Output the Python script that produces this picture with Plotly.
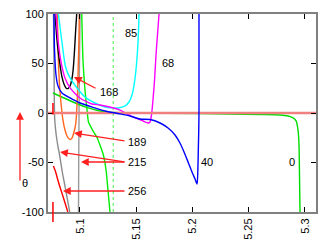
import plotly.graph_objects as go

# ---- data ----
x_ticks = [5.1, 5.15, 5.2, 5.25, 5.3]
x_tick_text = ["5.1", "5.15", "5.2", "5.25", "5.3"]
y_ticks = [-100, -50, 0, 50, 100]
y_tick_text = ["-100", "-50", "0", "50", "100"]

# curve "0" (green)
g0_x = [5.0760, 5.1045, 5.1223, 5.1445, 5.2067, 5.2601, 5.2778, 5.2850, 5.2894, 5.2921, 5.2938, 5.2947, 5.2952, 5.2956]
g0_y = [20.2, 6.1, 1.0, 0.2, -0.5, -1.5, -2.0, -3.0, -5.0, -8.0, -17.0, -32.0, -68.0, -100.0]

# steep green branch
g1_x = [5.1016, 5.1027, 5.1045, 5.1063, 5.1076, 5.1107, 5.1149, 5.1178, 5.1208, 5.1232, 5.1249, 5.1267]
g1_y = [100.0, 53.5, 23.2, 3.0, -9.1, -16.2, -24.2, -32.3, -42.4, -57.6, -77.8, -100.0]

# curve "85" (cyan)
c85_x = [5.0808, 5.0840, 5.0872, 5.0912, 5.0974, 5.1045, 5.1134, 5.1223, 5.1338, 5.1401, 5.1436, 5.1463, 5.1481, 5.1498, 5.1512, 5.1521, 5.1525]
c85_y = [100.0, 71.7, 46.5, 35.4, 25.3, 16.2, 10.1, 6.1, 5.1, 7.1, 11.1, 18.2, 28.3, 43.4, 63.6, 83.8, 100.0]

# curve "68" (magenta)
m68_x = [5.0787, 5.0805, 5.0832, 5.0867, 5.0912, 5.1000, 5.1107, 5.1178, 5.1356, 5.1472, 5.1561, 5.1605, 5.1623, 5.1636, 5.1649, 5.1663, 5.1676, 5.1689, 5.1703]
m68_y = [100.0, 73.7, 51.5, 35.4, 25.3, 15.2, 9.1, 8.1, 3.0, -4.0, -8.1, -10.1, -9.1, -2.0, 13.1, 33.3, 58.6, 78.8, 100.0]

# curve "40" (blue)
b40_x = [5.0769, 5.0774, 5.0787, 5.0805, 5.0840, 5.0912, 5.1000, 5.1134, 5.1223, 5.1338, 5.1445, 5.1534, 5.1623, 5.1712, 5.1783, 5.1845, 5.1889, 5.1925, 5.1961, 5.1996, 5.2023, 5.2041, 5.2048, 5.2052, 5.2056, 5.2058, 5.2058]
b40_y = [100.0, 63.6, 38.4, 27.3, 20.2, 15.2, 10.1, 5.1, 2.0, -0.5, -3.0, -6.1, -6.6, -10.1, -15.2, -22.2, -30.3, -39.4, -49.5, -59.6, -66.7, -71.7, -57.6, -37.4, -17.2, 3.0, 100.0]

# curve "168" (black)
k168_x = [5.0778, 5.0792, 5.0805, 5.0823, 5.0840, 5.0858, 5.0876, 5.0894, 5.0912, 5.0925, 5.0934, 5.0941, 5.0952, 5.0962, 5.0971]
k168_y = [100.0, 78.8, 63.6, 48.5, 36.4, 29.3, 25.3, 24.7, 27.3, 32.3, 38.4, 45.5, 63.6, 83.8, 100.0]

# curve "189" (orange)
o189_x = [5.0799, 5.0805, 5.0811, 5.0823, 5.0836, 5.0849, 5.0867, 5.0885, 5.0912, 5.0929, 5.0947, 5.0961, 5.0969, 5.0978, 5.0985, 5.0992, 5.0994]
o189_y = [100.0, 68.7, 43.4, 21.2, 5.1, -7.1, -17.2, -23.2, -26.8, -25.3, -19.2, -12.1, -2.0, 18.2, 48.5, 78.8, 100.0]

# curves "215" (gray)
gr1_x = [5.0765, 5.0769, 5.0772, 5.0776, 5.0789, 5.0807, 5.0816, 5.0829, 5.0843, 5.0860, 5.0878, 5.0896, 5.0909]
gr1_y = [100.0, 53.5, 13.1, -7.1, -22.2, -35.4, -40.4, -49.5, -59.6, -69.7, -80.8, -91.9, -100.0]
gr2_x = [5.1001, 5.0996, 5.0992, 5.0989, 5.0987]
gr2_y = [100.0, 53.5, 3.0, -47.5, -100.0]

# curve "256" (red)
r256_x = [5.0764, 5.0784, 5.0806, 5.0828, 5.0851, 5.0873, 5.0892]
r256_y = [-53.5, -59.6, -68.7, -76.8, -84.8, -92.9, -100.0]

# reference lines
zero_x = [5.0716, 5.3098]
zero_y = [0, 0]
dot_x = [5.1296, 5.1296]
dot_y = [-100, 100]

# text labels: (text, x, y)
labels = [("85", 5.1454, 80.8), ("68", 5.1783, 50.5), ("40", 5.2130, -49.5),
          ("0", 5.2885, -49.5), ("168", 5.1262, 21.2), ("189", 5.1503, -29.3),
          ("215", 5.1507, -49.5), ("256", 5.1507, -78.8)]
# arrows: (tail x, tail y, head x, head y)
arrows = [(5.1152, 24.2, 5.0947, 36.4),
          (5.1409, -28.3, 5.0947, -20.2),
          (5.1409, -49.5, 5.0823, -39.4),
          (5.1409, -49.5, 5.1009, -49.5),
          (5.1409, -78.8, 5.0849, -78.8)]

fig = go.Figure()

def add(x, y, color, width=1.4, dash=None):
    fig.add_trace(go.Scatter(x=x, y=y, mode="lines",
                             line=dict(color=color, width=width, dash=dash, shape="spline", smoothing=0.6),
                             hoverinfo="skip", showlegend=False))

add(dot_x, dot_y, "#66ee66", 1.2, "dot")
add(gr1_x, gr1_y, "#8c8c8c")
add(gr2_x, gr2_y, "#9a9a9a")
add(r256_x, r256_y, "#ff0000")
add(g0_x, g0_y, "#00dd00")
add(g1_x, g1_y, "#00ee00")
add(o189_x, o189_y, "#ff6622")
add(k168_x, k168_y, "#000000")
add(c85_x, c85_y, "#00ffff")
add(m68_x, m68_y, "#ff00ff")
add(zero_x, zero_y, "#f08080", 2.6)
add(b40_x, b40_y, "#0000ff")

font = dict(family="Liberation Sans, Arial, sans-serif", size=11, color="black")

for t, x, y in labels:
    fig.add_annotation(x=x, y=y, text=t, showarrow=False, font=font)

for tx, ty, hx, hy in arrows:
    fig.add_annotation(x=hx, y=hy, ax=tx, ay=ty, xref="x", yref="y", axref="x", ayref="y",
                       text="", showarrow=True, arrowhead=2, arrowsize=1.2, arrowwidth=1.3,
                       arrowcolor="#ff2020")

# theta arrow and label outside the plot area
fig.add_annotation(x=-0.1045, y=0.505, xref="paper", yref="paper", ax=0, ay=70,
                   text="", showarrow=True, arrowhead=2, arrowsize=1.2, arrowwidth=1.3,
                   arrowcolor="#ff2020")
fig.add_annotation(x=-0.1045, y=0.106, xref="paper", yref="paper", text="θ",
                   showarrow=False, font=font)

# red stub marks
fig.add_shape(type="line", xref="x", yref="paper", x0=5.0760, x1=5.0760, y0=0.492, y1=0.551,
              line=dict(color="#ff0000", width=1.5))
fig.add_shape(type="line", xref="x", yref="paper", x0=5.0760, x1=5.0760, y0=-0.05, y1=0.05,
              line=dict(color="#ff0000", width=1.5))

axis_common = dict(showline=True, linecolor="#808080", linewidth=2, mirror="ticks",
                   ticks="inside", ticklen=5, tickcolor="black", tickwidth=1,
                   showgrid=False, zeroline=False, tickfont=font, automargin=False,
                   ticklabeloverflow="allow")

# the page body has an 8px margin, so the figure margins are reduced to compensate
fig.update_layout(
    width=336, height=240,
    margin=dict(l=40, r=28, t=6, b=36),
    paper_bgcolor="white", plot_bgcolor="white",
    xaxis=dict(range=[5.0716, 5.3098], tickvals=x_ticks, ticktext=x_tick_text,
               tickangle=-90, **axis_common),
    yaxis=dict(range=[-100, 100], tickvals=y_ticks, ticktext=y_tick_text, **axis_common),
)

fig.write_html("out.html")
